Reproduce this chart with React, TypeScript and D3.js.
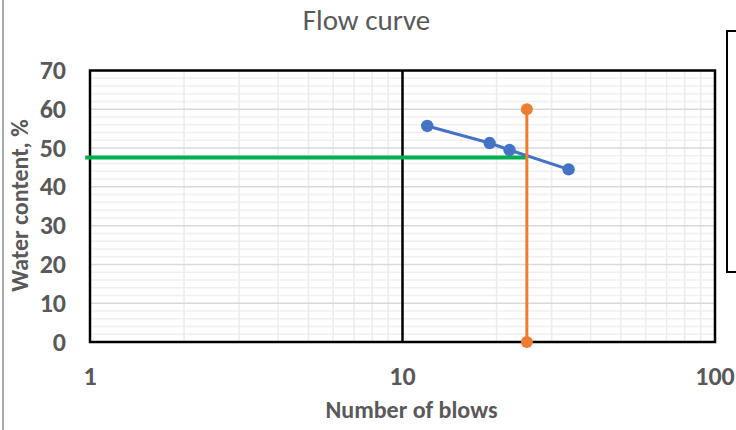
import React from "react";
import * as d3 from "d3";

const blows = [12, 19, 22, 34];
const waterContent = [55.7, 51.3, 49.5, 44.5];
const liquidLimitX = [25, 25];
const liquidLimitY = [60, 0];
const greenX = [0.965, 25];
const greenY = [47.6, 47.6];
const yTicks = [0, 10, 20, 30, 40, 50, 60, 70];
const xTicks = [1, 10, 100];

const W = 736, H = 430;
const M = { left: 90, right: 715, top: 70.5, bottom: 342 };
const FONT = "Carlito, 'Liberation Sans Narrow', 'Open Sans', sans-serif";
const TXT = "#595959";

export default function App() {
  const x = d3.scaleLog().domain([1, 100]).range([M.left, M.right]);
  const y = d3.scaleLinear().domain([0, 70]).range([M.bottom, M.top]);
  const line = d3.line<[number, number]>().x(d => x(d[0])).y(d => y(d[1]));

  const minorY = d3.range(0, 71, 2).filter(v => v % 10 !== 0);
  const vLines: number[] = [];
  for (const dec of [1, 10]) for (let k = 2; k <= 9; k++) vLines.push(dec * k);

  const blue = blows.map((b, i) => [b, waterContent[i]] as [number, number]);
  const orange = liquidLimitX.map((b, i) => [b, liquidLimitY[i]] as [number, number]);
  const green = greenX.map((b, i) => [b, greenY[i]] as [number, number]);

  return (
    <svg width={W} height={H} style={{ position: "absolute", left: 0, top: 0, background: "#fff" }}>
      <line x1={3} x2={3} y1={0} y2={H} stroke="#8c8c8c" strokeWidth={1.5} />
      <text x={366.5} y={30} textAnchor="middle" fontFamily={FONT} fontSize={29} fill={TXT}>Flow curve</text>
      <rect x={727} y={31} width={20} height={241} fill="none" stroke="#000" strokeWidth={2} />
      {minorY.map(v => (
        <line key={"my" + v} x1={M.left} x2={M.right} y1={y(v)} y2={y(v)} stroke="#f0f0f0" strokeWidth={1.5} />
      ))}
      {vLines.map(v => (
        <line key={"v" + v} x1={x(v)} x2={x(v)} y1={M.top} y2={M.bottom} stroke="#ececec" strokeWidth={1.5} />
      ))}
      {yTicks.map(v => (
        <line key={"y" + v} x1={M.left} x2={M.right} y1={y(v)} y2={y(v)} stroke="#d9d9d9" strokeWidth={1.5} />
      ))}
      <line x1={x(10)} x2={x(10)} y1={M.top} y2={M.bottom} stroke="#000" strokeWidth={2.5} />
      <rect x={M.left} y={M.top} width={M.right - M.left} height={M.bottom - M.top} fill="none" stroke="#000" strokeWidth={2.5} />
      <path d={line(green) || ""} fill="none" stroke="#00B050" strokeWidth={4} />
      <path d={line(blue) || ""} fill="none" stroke="#4472C4" strokeWidth={3} />
      {blue.map((d, i) => <circle key={"b" + i} cx={x(d[0])} cy={y(d[1])} r={6.2} fill="#4472C4" />)}
      <path d={line(orange) || ""} fill="none" stroke="#ED7D31" strokeWidth={3} />
      {orange.map((d, i) => <circle key={"o" + i} cx={x(d[0])} cy={y(d[1])} r={6} fill="#ED7D31" />)}
      {yTicks.map(v => (
        <text key={"yt" + v} x={66} y={y(v) + 8.5} textAnchor="end" fontFamily={FONT} fontSize={26} fontWeight="bold" fill={TXT}>{v}</text>
      ))}
      {xTicks.map(v => (
        <text key={"xt" + v} x={x(v)} y={385} textAnchor="middle" fontFamily={FONT} fontSize={26} fontWeight="bold" fill={TXT}>{v}</text>
      ))}
      <text x={411.5} y={418} textAnchor="middle" fontFamily={FONT} fontSize={24} fontWeight="bold" fill={TXT}>Number of blows</text>
      <text transform={`translate(28,205.5) rotate(-90)`} textAnchor="middle" fontFamily={FONT} fontSize={24} fontWeight="bold" fill={TXT}>Water content, %</text>
    </svg>
  );
}
